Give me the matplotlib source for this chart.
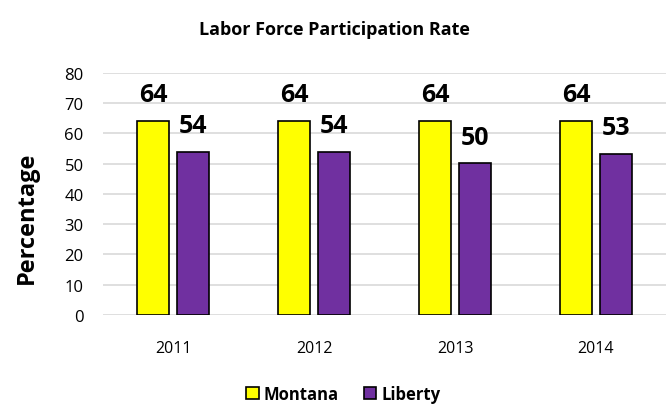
import matplotlib
matplotlib.use("Agg")
import matplotlib.pyplot as plt
import numpy as np

years = ["2011", "2012", "2013", "2014"]
montana = [64.0, 64.0, 64.0, 64.0]
liberty = [53.8, 54.0, 50.1, 53.2]
montana_labels = ["64", "64", "64", "64"]
liberty_labels = ["54", "54", "50", "53"]

plt.rcParams['font.family'] = ['Open Sans', 'DejaVu Sans']

fig = plt.figure(figsize=(6.69, 4.06), dpi=100)
ax = fig.add_axes([0.154, 0.222, 0.842, 0.596])

x = np.arange(len(years))
w = 0.227
off = 0.142
b1 = ax.bar(x - off, montana, w, color="#FFFF00", edgecolor="black", linewidth=1.2, label="Montana", zorder=3)
b2 = ax.bar(x + off, liberty, w, color="#7030A0", edgecolor="black", linewidth=1.2, label="Liberty", zorder=3)

for xi, v, t in zip(x, montana, montana_labels):
    ax.text(xi - off, v + 8.7, t, ha="center", va="center", fontsize=18, fontweight="bold")
for xi, v, t in zip(x, liberty, liberty_labels):
    ax.text(xi + off, v + 8.7, t, ha="center", va="center", fontsize=18, fontweight="bold")

ax.set_ylim(0, 80)
ax.set_xlim(-0.5, 3.5)
ax.set_yticks(range(0, 81, 10))
ax.set_xticks(x)
ax.set_xticklabels(years)
ax.tick_params(axis="y", length=0, pad=14, labelsize=12)
ax.tick_params(axis="x", length=0, pad=18, labelsize=11.5)
ax.yaxis.grid(True, color="#D9D9D9", linewidth=1.2, zorder=0)
ax.set_axisbelow(True)
for s in ax.spines.values():
    s.set_visible(False)

ax.set_ylabel("Percentage", fontsize=17, fontweight="bold")
ax.yaxis.set_label_coords(-0.114, 0.405)
fig.text(0.5, 0.925, "Labor Force Participation Rate", ha="center", va="center", fontsize=13, fontweight="bold")

leg = fig.legend(handles=[b1, b2], loc="center", bbox_to_anchor=(0.513, 0.027), ncol=2, frameon=False,
                 prop={"weight": "bold", "size": 12}, handlelength=0.75, handleheight=0.75,
                 handletextpad=0.3, columnspacing=1.5)

fig.savefig("out.png", dpi=100)
